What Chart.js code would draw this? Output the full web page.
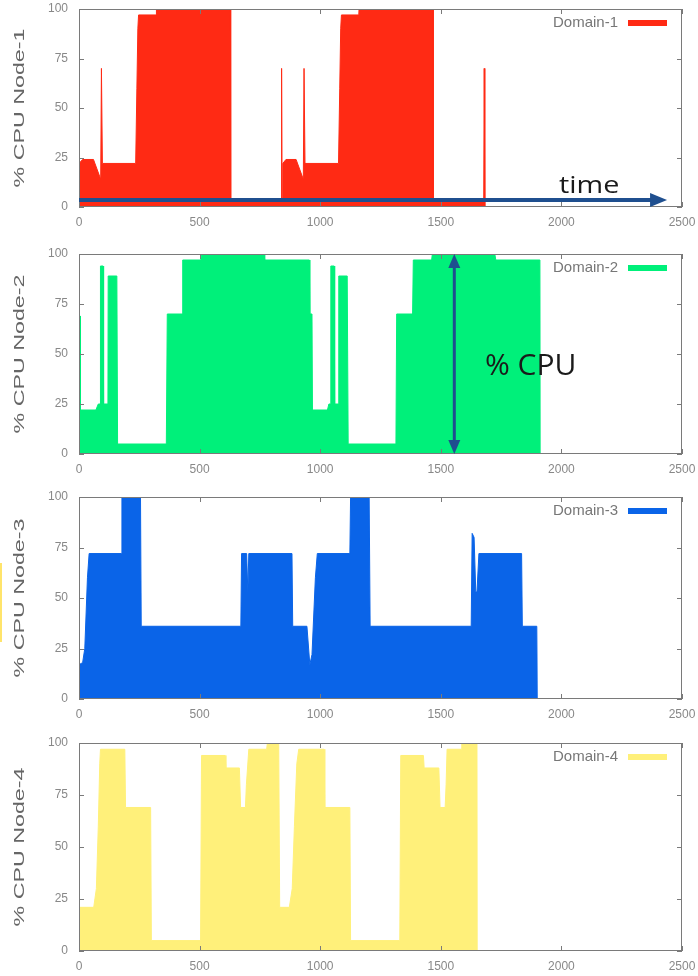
<!DOCTYPE html>
<html>
<head>
<meta charset="utf-8">
<script src="https://cdn.jsdelivr.net/npm/chart.js@4.4.1/dist/chart.umd.min.js"></script>
<style>
    body { margin: 0; background: #fff; }
    #page { position: relative; width: 698px; height: 976px; overflow: hidden; }
    .panel { position: absolute; left: 0; width: 698px; height: 244px; }
    #marker { position: absolute; left: 0; top: 563px; width: 2px; height: 79px; background: #ffe46b; }
</style>
</head>
<body>
<div id="page">
    <canvas class="panel" id="node-1" width="698" height="244" style="top:0"></canvas>
    <canvas class="panel" id="node-2" width="698" height="244" style="top:244px"></canvas>
    <canvas class="panel" id="node-3" width="698" height="244" style="top:488px"></canvas>
    <canvas class="panel" id="node-4" width="698" height="244" style="top:732px"></canvas>
    <div id="marker"></div>
</div>
<script>
const xTicks = [0, 500, 1000, 1500, 2000, 2500];
const yTicks = [0, 25, 50, 75, 100];

// Domain-1 (node 1)
const time1 = [0, 15, 60, 90, 93, 95, 97, 235, 240, 244, 247, 320, 321, 628, 629,
    838, 840, 842, 845, 858, 900, 930, 933, 935, 937, 1076, 1081, 1085, 1088, 1160, 1161, 1468, 1469,
    1678, 1680, 1682, 1683];
const cpu1 = [22, 24, 24, 14, 70, 70, 22, 22, 60, 90, 97, 97, 100, 100, 4,
    4, 70, 4, 22, 24, 24, 14, 70, 70, 22, 22, 60, 90, 97, 97, 100, 100, 4,
    4, 70, 4, 0];

// Domain-2 (node 2)
const time2 = [0, 1, 5, 6, 70, 80, 88, 89, 100, 102, 120, 121, 157, 160, 362, 366, 428, 430, 505, 508, 767, 770,
    955, 957, 966, 968, 1030, 1036, 1043, 1044, 1058, 1060, 1076, 1077, 1112, 1116, 1314, 1317, 1383, 1386,
    1462, 1465, 1724, 1728, 1911, 1912];
const cpu2 = [0, 69, 69, 22, 22, 25, 25, 94, 94, 25, 25, 89, 89, 5, 5, 70, 70, 97, 97, 100, 100, 97,
    97, 70, 70, 22, 22, 25, 25, 94, 94, 25, 25, 89, 89, 5, 5, 70, 70, 97,
    97, 100, 100, 97, 97, 0];

// Domain-3 (node 3)
const time3 = [0, 15, 24, 35, 42, 176, 178, 255, 258, 671, 674, 695, 700, 704, 883, 886, 945, 957, 966, 980, 988,
    1123, 1126, 1203, 1207, 1626, 1630, 1638, 1645, 1650, 1658, 1835, 1838, 1898, 1900];
const cpu3 = [17, 18, 25, 60, 72, 72, 100, 100, 36, 36, 72, 72, 53, 72, 72, 36, 36, 17, 22, 60, 72,
    72, 100, 100, 36, 36, 82, 80, 53, 53, 72, 72, 36, 36, 0];

// Domain-4 (node 4)
const time4 = [0, 61, 72, 80, 86, 89, 190, 193, 297, 300, 504, 508, 606, 609, 665, 670, 690, 694, 704, 778, 781, 828,
    832, 872, 884, 893, 903, 911, 1016, 1019, 1123, 1126, 1330, 1334, 1428, 1431, 1492, 1497, 1518, 1522, 1526,
    1585, 1587, 1650, 1651];
const cpu4 = [21, 21, 30, 60, 90, 97, 97, 69, 69, 5, 5, 94, 94, 88, 88, 69, 69, 80, 97, 97, 100, 100,
    21, 21, 30, 60, 90, 97, 97, 69, 69, 5, 5, 94, 94, 88, 88, 69, 69, 80, 97,
    97, 100, 100, 0];

const tickFont = '12px "Liberation Sans", Arial, sans-serif';
const arrowBlue = '#1f4f8f';

// gnuplot-like frame: border, inward ticks on all sides, tick labels
const frameTicks = {
    id: 'frameTicks',
    afterDatasetsDraw(chart) {
        const { ctx, chartArea: a, scales: { x, y } } = chart;
        ctx.save();
        ctx.strokeStyle = '#7a7a7a';
        ctx.lineWidth = 1;
        ctx.strokeRect(a.left + 0.5, a.top + 0.5, a.width - 1, a.height - 1);
        ctx.beginPath();
        xTicks.forEach(v => {
            const px = Math.round(x.getPixelForValue(v)) + 0.5;
            ctx.moveTo(px, a.bottom); ctx.lineTo(px, a.bottom - 5);
            ctx.moveTo(px, a.top); ctx.lineTo(px, a.top + 5);
        });
        yTicks.forEach(v => {
            const py = Math.round(y.getPixelForValue(v)) + 0.5;
            ctx.moveTo(a.left, py); ctx.lineTo(a.left + 5, py);
            ctx.moveTo(a.right, py); ctx.lineTo(a.right - 5, py);
        });
        ctx.stroke();

        ctx.font = tickFont;
        ctx.fillStyle = '#888';
        ctx.textBaseline = 'middle';
        ctx.textAlign = 'center';
        xTicks.forEach(v => ctx.fillText(String(v), x.getPixelForValue(v), a.bottom + 16));
        ctx.textAlign = 'right';
        yTicks.forEach(v => ctx.fillText(String(v), a.left - 11, y.getPixelForValue(v)));
        ctx.restore();
    }
};

const legendBox = {
    id: 'legendBox',
    afterDraw(chart) {
        const { ctx, chartArea: a } = chart;
        const ds = chart.data.datasets[0];
        const yMid = a.top + 14;
        ctx.save();
        ctx.font = '15px "Liberation Sans", Arial, sans-serif';
        ctx.fillStyle = '#777';
        ctx.textAlign = 'right';
        ctx.textBaseline = 'middle';
        ctx.fillText(ds.label, a.right - 64, yMid);
        ctx.strokeStyle = ds.borderColor;
        ctx.lineWidth = 6;
        ctx.beginPath();
        ctx.moveTo(a.right - 54, yMid);
        ctx.lineTo(a.right - 15, yMid);
        ctx.stroke();
        ctx.restore();
    }
};

const yTitle = {
    id: 'yTitle',
    afterDraw(chart, args, opts) {
        const { ctx, chartArea: a } = chart;
        ctx.save();
        ctx.translate(20, (a.top + a.bottom) / 2);
        ctx.rotate(-Math.PI / 2);
        ctx.scale(1.55, 1);
        ctx.font = '15px "Liberation Sans", Arial, sans-serif';
        ctx.fillStyle = '#666';
        ctx.textAlign = 'center';
        ctx.textBaseline = 'middle';
        ctx.fillText(opts.text, 0, 0);
        ctx.restore();
    }
};

function arrowHead(ctx, tx, ty, dx, dy, len, half) {
    ctx.beginPath();
    ctx.moveTo(tx, ty);
    ctx.lineTo(tx - dx * len - dy * half, ty - dy * len + dx * half);
    ctx.lineTo(tx - dx * len + dy * half, ty - dy * len - dx * half);
    ctx.closePath();
    ctx.fill();
}

const overlay = {
    id: 'overlay',
    afterDraw(chart, args, opts) {
        const { ctx, scales: { x, y } } = chart;
        ctx.save();
        ctx.strokeStyle = arrowBlue;
        ctx.fillStyle = arrowBlue;
        if (opts.timeArrow) {
            const t = opts.timeArrow;
            const py = y.getPixelForValue(t.y);
            const x0 = x.getPixelForValue(t.from), x1 = x.getPixelForValue(t.to);
            ctx.lineWidth = 4;
            ctx.beginPath();
            ctx.moveTo(x0, py); ctx.lineTo(x1 - 12, py);
            ctx.stroke();
            arrowHead(ctx, x1, py, 1, 0, 17, 7);
            ctx.save();
            ctx.translate(x.getPixelForValue(t.labelX), y.getPixelForValue(t.labelY));
            ctx.scale(1.2, 1);
            ctx.font = '24px "Open Sans", sans-serif';
            ctx.fillStyle = '#1a1a1a';
            ctx.textBaseline = 'alphabetic';
            ctx.fillText(t.text, 0, 0);
            ctx.restore();
        }
        if (opts.cpuArrow) {
            const c = opts.cpuArrow;
            const px = x.getPixelForValue(c.x);
            const y0 = y.getPixelForValue(c.from), y1 = y.getPixelForValue(c.to);
            ctx.lineWidth = 3;
            ctx.beginPath();
            ctx.moveTo(px, y0 - 10); ctx.lineTo(px, y1 + 10);
            ctx.stroke();
            arrowHead(ctx, px, y0, 0, 1, 14, 6);
            arrowHead(ctx, px, y1, 0, -1, 14, 6);
            ctx.font = '30px "Open Sans", sans-serif';
            ctx.fillStyle = '#1a1a1a';
            ctx.textBaseline = 'alphabetic';
            ctx.fillText(c.text, x.getPixelForValue(c.labelX), y.getPixelForValue(c.labelY));
        }
        ctx.restore();
    }
};

function renderNode(id, cfg) {
    new Chart(document.getElementById(id), {
        type: 'line',
        data: {
            datasets: [{
                label: cfg.label,
                data: cfg.time.map((t, i) => ({ x: t, y: cfg.cpu[i] })),
                borderColor: cfg.color,
                backgroundColor: cfg.color,
                borderWidth: 1,
                fill: 'origin',
                pointRadius: 0,
                tension: 0
            }]
        },
        options: {
            responsive: false,
            animation: false,
            layout: { padding: { top: cfg.top, right: 16, left: 0, bottom: 0 } },
            plugins: {
                legend: { display: false },
                tooltip: { enabled: false },
                yTitle: { text: cfg.title },
                overlay: cfg.overlay || {}
            },
            scales: {
                x: {
                    type: 'linear', min: 0, max: 2500,
                    afterBuildTicks: s => { s.ticks = xTicks.map(v => ({ value: v })); },
                    afterFit: s => { s.height = 244 - cfg.bottom; },
                    grid: { display: false, drawTicks: false },
                    border: { display: false },
                    ticks: { display: false }
                },
                y: {
                    min: 0, max: 100,
                    afterBuildTicks: s => { s.ticks = yTicks.map(v => ({ value: v })); },
                    afterFit: s => { s.width = 79; },
                    grid: { display: false, drawTicks: false },
                    border: { display: false },
                    ticks: { display: false }
                }
            }
        },
        plugins: [frameTicks, legendBox, yTitle, overlay]
    });
}

renderNode('node-1', {
    label: 'Domain-1', title: '% CPU Node-1', color: '#ff2a14', time: time1, cpu: cpu1, top: 9, bottom: 207,
    overlay: { timeArrow: { from: 0, to: 2438, y: 3.5, text: 'time', labelX: 1990, labelY: 7 } }
});
renderNode('node-2', {
    label: 'Domain-2', title: '% CPU Node-2', color: '#00f07a', time: time2, cpu: cpu2, top: 10, bottom: 210,
    overlay: { cpuArrow: { x: 1556, from: 0, to: 100, text: '% CPU', labelX: 1683, labelY: 39.5 } }
});
renderNode('node-3', {
    label: 'Domain-3', title: '% CPU Node-3', color: '#0a64e8', time: time3, cpu: cpu3, top: 9, bottom: 211
});
renderNode('node-4', {
    label: 'Domain-4', title: '% CPU Node-4', color: '#fff07a', time: time4, cpu: cpu4, top: 11, bottom: 219
});
</script>
</body>
</html>
